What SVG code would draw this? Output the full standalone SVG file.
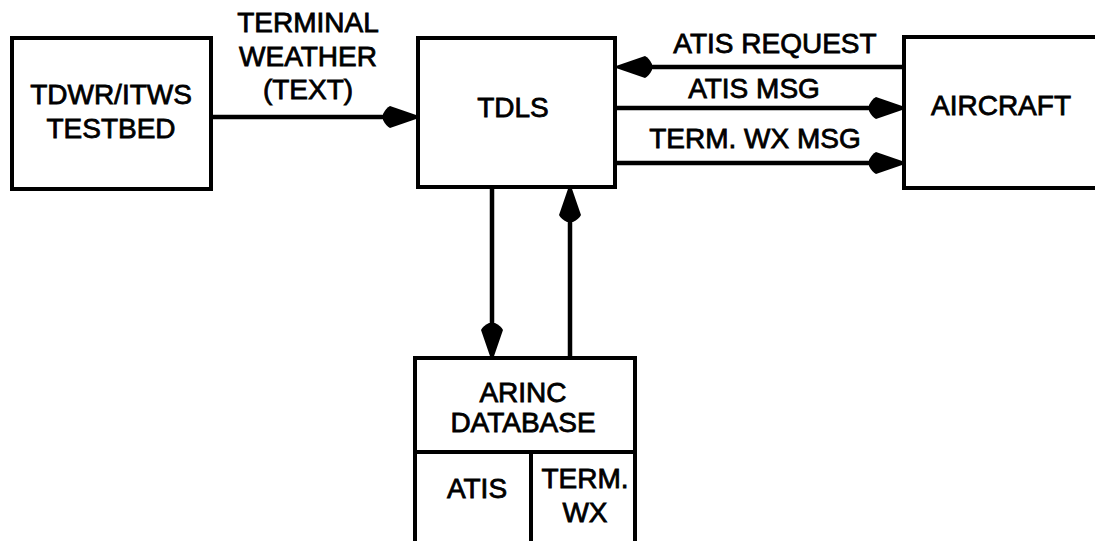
<svg xmlns="http://www.w3.org/2000/svg" width="1095" height="541" viewBox="0 0 1095 541">
<style>
.box{fill:#fff;stroke:#000;stroke-width:4}
.div{fill:none;stroke:#000;stroke-width:4}
.ln{fill:none;stroke:#000;stroke-width:4.5}
text{font-family:"Liberation Sans",Arial,sans-serif;font-size:28px;fill:#000;stroke:#000;stroke-width:0.8;text-anchor:middle}
</style>
<defs>
<marker id="ah" markerUnits="userSpaceOnUse" markerWidth="40" markerHeight="26" refX="-20" refY="0" orient="auto" overflow="visible" viewBox="-38 -13 40 26">
<path d="M1,-1 L1,1 L-28,11 Q-32,9 -35,3 L-35,-3 Q-32,-9 -28,-11 Z" fill="#000"/>
</marker>
</defs>
<rect width="1095" height="541" fill="#fff"/>
<g id="tdwr">
<rect class="box" x="12" y="38" width="199" height="151"/>
<text x="111" y="104">TDWR/ITWS</text>
<text x="111" y="138">TESTBED</text>
</g>
<g id="tdls">
<rect class="box" x="418" y="38" width="197" height="149"/>
<text x="513" y="117">TDLS</text>
</g>
<g id="aircraft">
<rect class="box" x="904" y="37" width="200" height="151"/>
<text x="1001" y="115">AIRCRAFT</text>
</g>
<g id="arinc">
<rect class="box" x="415" y="358" width="220" height="200"/>
<line class="div" x1="415" y1="452" x2="635" y2="452"/>
<line class="div" x1="531" y1="452" x2="531" y2="545"/>
<text x="523" y="402">ARINC</text>
<text x="523" y="432">DATABASE</text>
<text x="477" y="498">ATIS</text>
<text x="585" y="488">TERM.</text>
<text x="585" y="522">WX</text>
</g>
<g id="connectors">
<path class="ln" d="M211,117 H398" marker-end="url(#ah)"/>
<path class="ln" d="M904,67 H637" marker-end="url(#ah)"/>
<path class="ln" d="M615,108 H884" marker-end="url(#ah)"/>
<path class="ln" d="M615,163 H884" marker-end="url(#ah)"/>
<path class="ln" d="M492,187 V338" marker-end="url(#ah)"/>
<path class="ln" d="M570,358 V207" marker-end="url(#ah)"/>
</g>
<g id="labels">
<text x="308" y="32">TERMINAL</text>
<text x="308" y="66">WEATHER</text>
<text x="308" y="99">(TEXT)</text>
<text x="775" y="53">ATIS REQUEST</text>
<text x="754" y="98">ATIS MSG</text>
<text x="755" y="148">TERM. WX MSG</text>
</g>
</svg>
